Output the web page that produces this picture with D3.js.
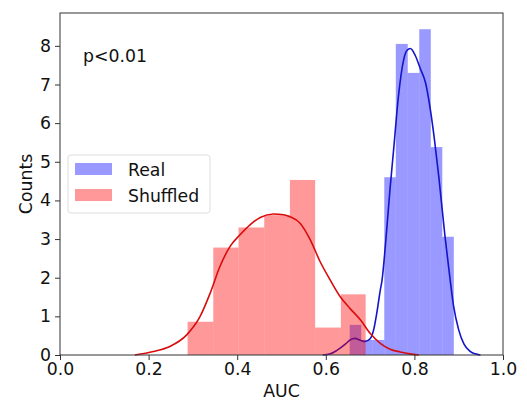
<!DOCTYPE html>
<html>
<head>
<meta charset="utf-8">
<script src="https://cdn.jsdelivr.net/npm/d3@7"></script>
<style>
  body { margin: 0; background: #fff; }
  text { font-family: "DejaVu Sans", sans-serif; fill: #111; }
</style>
</head>
<body>
<div id="chart"></div>
<script>
// histogram bin edges and heights
var realEdges = [0.654, 0.680, 0.706, 0.732, 0.758, 0.785, 0.811, 0.837, 0.863, 0.889];
var realCounts = [0.78, 0.39, 0.39, 4.60, 8.05, 7.30, 8.43, 5.38, 3.06];

var shuffledEdges = [0.288, 0.346, 0.403, 0.461, 0.519, 0.576, 0.634, 0.690];
var shuffledCounts = [0.86, 2.78, 3.30, 3.62, 4.53, 0.71, 1.57];

// density curves (x, y)
var realKdeX = [0.593, 0.610, 0.625, 0.644, 0.655, 0.666, 0.678, 0.689, 0.700, 0.708, 0.715, 0.723,
    0.727, 0.735, 0.745, 0.753, 0.764, 0.775, 0.783, 0.791, 0.802, 0.813, 0.825, 0.836, 0.845,
    0.855, 0.869, 0.877, 0.888, 0.900, 0.912, 0.925, 0.937, 0.949];
var realKdeY = [0.00, 0.03, 0.12, 0.28, 0.39, 0.43, 0.38, 0.35, 0.42, 0.65, 1.08, 1.68,
    1.94, 2.90, 4.30, 5.30, 6.70, 7.60, 7.88, 7.93, 7.75, 7.42, 7.05, 6.35, 5.60,
    4.62, 3.08, 2.30, 1.30, 0.65, 0.28, 0.10, 0.03, 0.00];

var shuffledKdeX = [0.169, 0.211, 0.248, 0.286, 0.316, 0.339, 0.361, 0.384, 0.407, 0.429, 0.452,
    0.482, 0.505, 0.519, 0.542, 0.565, 0.587, 0.610, 0.633, 0.655, 0.678, 0.700, 0.723, 0.745,
    0.768, 0.790, 0.810];
var shuffledKdeY = [0.00, 0.09, 0.22, 0.52, 0.99, 1.60, 2.29, 2.81, 3.12, 3.37, 3.56,
    3.65, 3.63, 3.58, 3.41, 2.98, 2.42, 1.94, 1.50, 1.20, 0.91, 0.56, 0.30, 0.15,
    0.08, 0.03, 0.00];

var xTicks = [0.0, 0.2, 0.4, 0.6, 0.8, 1.0];
var yTicks = [0, 1, 2, 3, 4, 5, 6, 7, 8];

var margin = { top: 13, right: 24, bottom: 46, left: 60 };
var W = 527, H = 401;
var width = W - margin.left - margin.right,
    height = H - margin.top - margin.bottom;
var fontSize = "17.3px";

var svg = d3.select("#chart").append("svg")
    .attr("width", W)
    .attr("height", H);

var wrapper = svg.append("g")
    .attr("transform", "translate(" + margin.left + "," + margin.top + ")");

var x = d3.scaleLinear().domain([0, 1]).range([0, width]);
var y = d3.scaleLinear().domain([0, 8.85]).range([height, 0]);

function bins(edges, counts) {
    return counts.map(function (c, i) {
        return { x0: edges[i], x1: edges[i + 1], v: c };
    });
}

function drawHist(data, color) {
    wrapper.append("g")
        .selectAll("rect")
        .data(data)
        .enter()
        .append("rect")
        .attr("x", function (d) { return x(d.x0); })
        .attr("width", function (d) { return x(d.x1) - x(d.x0); })
        .attr("y", function (d) { return y(d.v); })
        .attr("height", function (d) { return y(0) - y(d.v); })
        .attr("fill", color)
        .attr("fill-opacity", 0.4);
}

var line = d3.line()
    .x(function (d) { return x(d[0]); })
    .y(function (d) { return y(d[1]); })
    .curve(d3.curveMonotoneX);

function drawKde(xs, ys, color) {
    wrapper.append("path")
        .datum(xs.map(function (v, i) { return [v, ys[i]]; }))
        .attr("d", line)
        .attr("fill", "none")
        .attr("stroke", color)
        .attr("stroke-width", 1.6);
}

// Real first, Shuffled on top (same order as the source plot)
drawHist(bins(realEdges, realCounts), "#0000ff");
drawKde(realKdeX, realKdeY, "#1414c8");
drawHist(bins(shuffledEdges, shuffledCounts), "#ff0000");
drawKde(shuffledKdeX, shuffledKdeY, "#d80c0c");

// axes
var xAxis = d3.axisBottom(x).tickValues(xTicks).tickFormat(d3.format(".1f")).tickSize(5).tickPadding(3);
var gX = wrapper.append("g")
    .attr("transform", "translate(0," + height + ")")
    .call(xAxis);

var yAxis = d3.axisLeft(y).tickValues(yTicks).tickFormat(d3.format("d")).tickSize(5).tickPadding(4);
var gY = wrapper.append("g").call(yAxis);

[gX, gY].forEach(function (g) {
    g.select(".domain").remove();
    g.selectAll("line").attr("stroke", "#333");
    g.selectAll("text").style("font-size", fontSize).attr("fill", "#111");
});

// frame
wrapper.append("rect")
    .attr("width", width)
    .attr("height", height)
    .attr("fill", "none")
    .attr("stroke", "#333")
    .attr("stroke-width", 1);

// labels
wrapper.append("text")
    .attr("x", width / 2)
    .attr("y", height + 42)
    .attr("text-anchor", "middle")
    .style("font-size", fontSize)
    .text("AUC");

wrapper.append("text")
    .attr("transform", "translate(" + (-28.5) + "," + (height / 2) + ") rotate(-90)")
    .attr("text-anchor", "middle")
    .style("font-size", fontSize)
    .text("Counts");

wrapper.append("text")
    .attr("x", 23)
    .attr("y", 48.5)
    .style("font-size", fontSize)
    .text("p<0.01");

// legend
var legend = wrapper.append("g").attr("transform", "translate(8,142)");
legend.append("rect")
    .attr("width", 142)
    .attr("height", 58)
    .attr("rx", 3)
    .attr("fill", "#fff")
    .attr("fill-opacity", 0.8)
    .attr("stroke", "#ddd");

var legendItems = [["Real", "#0000ff"], ["Shuffled", "#ff0000"]];
legendItems.forEach(function (it, i) {
    legend.append("rect")
        .attr("x", 7)
        .attr("y", 8 + i * 26)
        .attr("width", 37)
        .attr("height", 12)
        .attr("fill", it[1])
        .attr("fill-opacity", 0.4);
    legend.append("text")
        .attr("x", 60)
        .attr("y", 20.5 + i * 26)
        .style("font-size", fontSize)
        .text(it[0]);
});
</script>
</body>
</html>
